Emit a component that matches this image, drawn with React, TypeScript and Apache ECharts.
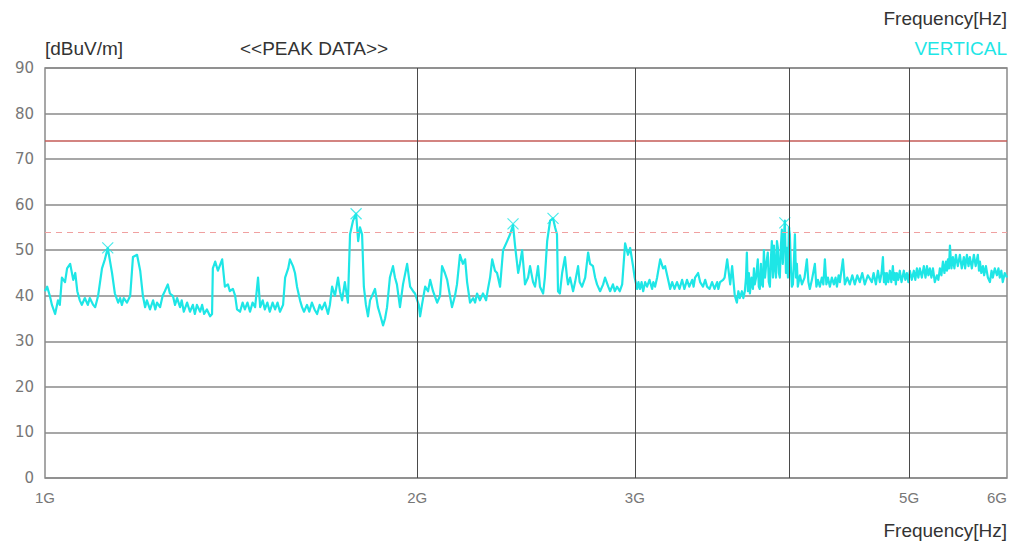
import React, { useEffect, useRef } from "react";
import * as echarts from "echarts";

// Frequency in GHz, level in dBuV/m
const traceSeg1: [number, number][] = [
  [1.0, 41], [1.004, 42], [1.009, 40], [1.013, 38], [1.019, 36], [1.0245, 39], [1.028, 38], [1.032, 44],
  [1.038, 43], [1.042, 46], [1.048, 47], [1.054, 43.5], [1.058, 45], [1.062, 41], [1.067, 39], [1.071, 38],
  [1.077, 39.5], [1.083, 38], [1.087, 39.5], [1.094, 38], [1.098, 37.5], [1.104, 40], [1.112, 46], [1.118, 48],
  [1.124, 50.5], [1.133, 45], [1.139, 40.5], [1.146, 38.5], [1.15, 39.5], [1.154, 38], [1.158, 39.5], [1.165, 38.5],
  [1.172, 40], [1.178, 48.5], [1.187, 49], [1.194, 45.5], [1.2, 40], [1.205, 37.5], [1.209, 39], [1.216, 37],
  [1.223, 39], [1.228, 37], [1.232, 38.5], [1.239, 37.5], [1.245, 40], [1.25, 41], [1.257, 42.5], [1.262, 40.5],
  [1.269, 40], [1.274, 38], [1.279, 39.5], [1.286, 37.5], [1.29, 39], [1.295, 36.5], [1.303, 38.5], [1.31, 36.5],
  [1.317, 38], [1.322, 36], [1.327, 38], [1.335, 36.5], [1.34, 38], [1.345, 36], [1.352, 37], [1.36, 35.5],
];
const traceSeg2: [number, number][] = [
  [1.365, 36], [1.367, 46], [1.373, 47.5], [1.38, 45.5], [1.391, 48], [1.398, 42], [1.406, 42.5], [1.411, 41],
  [1.419, 41.5], [1.425, 40], [1.43, 37], [1.438, 36.5], [1.445, 38.5], [1.451, 37], [1.458, 38.5], [1.465, 36.5],
  [1.472, 38.5], [1.479, 37.5], [1.487, 44], [1.493, 37.5], [1.5, 39], [1.506, 37], [1.513, 38.5], [1.52, 36.5],
  [1.528, 38.5], [1.535, 37], [1.542, 38.5], [1.549, 36.5], [1.558, 38], [1.564, 44], [1.573, 46], [1.578, 48],
  [1.587, 46.5], [1.593, 45], [1.599, 42], [1.608, 39], [1.614, 37.5], [1.62, 36.5], [1.629, 38], [1.636, 36.5],
  [1.644, 38.5], [1.652, 37], [1.66, 36], [1.668, 38], [1.675, 37], [1.684, 38.5], [1.694, 36], [1.7, 38],
  [1.707, 42], [1.716, 40], [1.726, 44], [1.732, 41], [1.739, 39], [1.748, 43], [1.758, 38.5], [1.765, 53.5],
  [1.775, 56.5], [1.785, 58], [1.792, 52], [1.798, 55], [1.805, 53.5], [1.811, 42], [1.818, 38], [1.825, 35.5],
  [1.832, 39], [1.839, 40],
];
const traceSeg3: [number, number][] = [
  [1.849, 41.5], [1.859, 37.5], [1.866, 36], [1.877, 33.5], [1.884, 35], [1.891, 37.5], [1.901, 44], [1.912, 46.5],
  [1.919, 44], [1.926, 42.5], [1.937, 37.5], [1.948, 42.5], [1.963, 47], [1.974, 42], [1.985, 41], [1.992, 40.5],
  [2.006, 38], [2.011, 35.5], [2.018, 38], [2.03, 42], [2.041, 41], [2.049, 43.5], [2.06, 41], [2.076, 38.5],
  [2.087, 40], [2.095, 46.5], [2.106, 45], [2.115, 43.5], [2.126, 40], [2.134, 37.5], [2.146, 40], [2.154, 42.5],
  [2.166, 49], [2.178, 47], [2.187, 48], [2.195, 43], [2.207, 38.5], [2.22, 39.5], [2.228, 38.5], [2.236, 40.5],
  [2.248, 39], [2.261, 40.5], [2.274, 39], [2.282, 41.5], [2.291, 44], [2.3, 48], [2.312, 45.5], [2.321, 45],
  [2.334, 42], [2.347, 50], [2.365, 52], [2.378, 53.5], [2.391, 55.5], [2.4, 51], [2.414, 45], [2.422, 47],
  [2.432, 50], [2.445, 42.5], [2.459, 44], [2.468, 46.5], [2.482, 43], [2.491, 42], [2.505, 46.5],
];
const traceSeg4: [number, number][] = [
  [2.514, 42], [2.529, 40.5], [2.537, 44], [2.548, 52], [2.562, 56.5], [2.576, 57], [2.586, 55], [2.595, 53.5],
  [2.6, 41], [2.609, 40.5], [2.62, 45], [2.634, 48.5], [2.644, 44], [2.649, 42.5], [2.659, 44], [2.674, 41],
  [2.684, 43], [2.699, 46.5], [2.707, 43], [2.719, 42], [2.735, 44], [2.75, 49.5], [2.76, 47], [2.775, 46.5],
  [2.786, 44], [2.796, 42.5], [2.812, 41], [2.828, 42.5], [2.838, 44], [2.855, 42], [2.865, 41], [2.88, 42.5],
  [2.89, 41], [2.902, 42], [2.917, 41], [2.93, 42.5], [2.946, 51.5], [2.962, 49], [2.974, 50.5], [2.99, 46.5],
  [2.999, 44], [3.013, 41.5], [3.02, 43], [3.029, 41.5], [3.038, 43], [3.047, 41], [3.058, 43], [3.069, 42],
  [3.083, 43.5], [3.098, 41.5], [3.105, 43], [3.115, 42], [3.127, 44], [3.145, 48], [3.162, 46], [3.174, 46.5],
  [3.192, 43.5], [3.204, 41.5], [3.216, 43], [3.23, 41.5], [3.245, 43], [3.26, 41.5], [3.276, 43.5], [3.29, 41.5],
  [3.306, 43.5], [3.32, 42], [3.338, 43.5], [3.347, 42], [3.356, 44], [3.375, 45], [3.388, 43], [3.406, 42],
];
const traceSeg5: [number, number][] = [
  [3.42, 43.5], [3.432, 42], [3.448, 41.5], [3.464, 43], [3.48, 41.5], [3.497, 43], [3.505, 41.5], [3.516, 43],
  [3.536, 43.5], [3.546, 44], [3.563, 48], [3.583, 42.5], [3.596, 46.5], [3.614, 40], [3.628, 38.5], [3.638, 41],
  [3.648, 39.5], [3.662, 41], [3.672, 39.5], [3.682, 41], [3.69, 44], [3.696, 49.5], [3.703, 41], [3.71, 45],
  [3.717, 40.5], [3.728, 44], [3.738, 41.5], [3.745, 46], [3.751, 42.5], [3.76, 44], [3.772, 48], [3.779, 42],
  [3.786, 41.5], [3.794, 47], [3.801, 42.5], [3.808, 42], [3.815, 50], [3.823, 44], [3.832, 47], [3.843, 49.5],
  [3.85, 43], [3.858, 42], [3.865, 48], [3.872, 52], [3.88, 44], [3.887, 51], [3.894, 46.5], [3.902, 44],
  [3.909, 52], [3.916, 50.5], [3.923, 45], [3.93, 44], [3.938, 51], [3.945, 54.5], [3.952, 47], [3.96, 53],
  [3.967, 56.5], [3.975, 45], [3.982, 50.5], [3.99, 44], [3.997, 55], [4.004, 53.5], [4.012, 46], [4.019, 42],
  [4.027, 42.5], [4.035, 48], [4.042, 53.5], [4.05, 44], [4.057, 47], [4.064, 42], [4.08, 44.5], [4.095, 42.5],
  [4.115, 44], [4.133, 48], [4.145, 43], [4.156, 41.5], [4.172, 43.5], [4.195, 47], [4.207, 42], [4.219, 43.5],
  [4.234, 42], [4.25, 44], [4.262, 42.5], [4.274, 48], [4.286, 42.5], [4.298, 44], [4.314, 42], [4.33, 44],
  [4.346, 42.5], [4.36, 44], [4.371, 42], [4.385, 44.5], [4.395, 43], [4.42, 48], [4.436, 42.5], [4.456, 44],
  [4.477, 42.5], [4.498, 44.5], [4.519, 42.5], [4.54, 44.5], [4.561, 43], [4.582, 45], [4.604, 42.5], [4.63, 44.5],
];
const traceSeg6: [number, number][] = [
  [4.665, 43], [4.68, 45], [4.7, 42.5], [4.718, 45.5], [4.735, 43], [4.75, 45], [4.762, 48.5], [4.771, 43],
  [4.779, 45], [4.788, 42.5], [4.797, 45], [4.81, 43], [4.824, 45.5], [4.837, 43], [4.851, 46.5], [4.86, 43.5],
  [4.869, 45], [4.878, 42.5], [4.887, 45], [4.9, 43.5], [4.914, 45.5], [4.93, 43], [4.951, 45.5], [4.965, 43.5],
  [4.979, 45], [4.993, 43], [5.007, 45.5], [5.025, 43.5], [5.044, 45.5], [5.058, 43.5], [5.073, 46], [5.087, 44],
  [5.101, 46], [5.12, 44], [5.139, 46.5], [5.155, 44], [5.169, 46.5], [5.183, 44.5], [5.197, 46], [5.212, 44],
  [5.227, 46], [5.245, 43], [5.266, 44.5], [5.28, 43.5], [5.295, 46], [5.31, 44.5], [5.325, 47.5], [5.34, 45],
  [5.355, 47.5], [5.365, 45.5], [5.375, 48], [5.385, 46], [5.395, 51], [5.41, 46], [5.425, 48.5], [5.44, 46],
  [5.455, 49], [5.475, 46.5], [5.496, 49], [5.515, 46], [5.537, 48.5], [5.55, 46], [5.568, 49], [5.585, 46.5],
  [5.599, 48.5], [5.62, 46], [5.641, 49], [5.66, 46.5], [5.683, 49], [5.695, 45.5], [5.705, 47.5], [5.72, 45],
  [5.737, 46.5], [5.75, 44.5], [5.769, 46.5], [5.79, 44], [5.812, 43], [5.83, 45.5], [5.844, 44], [5.865, 46],
  [5.888, 44.5], [5.905, 46], [5.92, 44], [5.937, 45.5], [5.953, 43], [5.975, 45], [6.0, 44],
];

const peakMarks: [number, number][] = [
  [1.124, 50.5], [1.785, 58], [2.391, 55.8], [2.576, 57], [3.967, 56],
];

const limitSolid = 74;
const limitDashed = 54;
const xLabelGHz = [1, 2, 3, 5, 6];
const xGridGHz = [2, 3, 4, 5];

const CYAN = "#1ee6e6";

export default function App() {
  const ref = useRef<HTMLDivElement>(null);

  useEffect(() => {
    const chart = echarts.init(ref.current!, null, { renderer: "svg" });
    const trace = [...traceSeg1, ...traceSeg2, ...traceSeg3, ...traceSeg4, ...traceSeg5, ...traceSeg6];
    const textStyle = (
      x: number,
      y: number,
      text: string,
      align: string,
      fill: string
    ) => ({
      type: "text",
      x,
      y,
      silent: true,
      style: {
        text,
        fill,
        fontSize: 19,
        fontFamily: "Liberation Sans, Arial, sans-serif",
        align,
        verticalAlign: "middle",
        textAlign: align,
        textVerticalAlign: "middle",
      },
    });

    chart.setOption({
      animation: false,
      backgroundColor: "#ffffff",
      grid: {
        left: 45,
        right: 7,
        top: 68,
        bottom: 66,
        show: true,
        borderColor: "#8a8a8a",
        borderWidth: 1.5,
        outerBoundsMode: "none",
      },
      xAxis: {
        type: "log",
        logBase: 10,
        min: 1,
        max: 6,
        axisLine: { show: false },
        axisTick: { show: false },
        splitLine: { show: false },
        minorSplitLine: { show: false },
        axisLabel: {
          customValues: xLabelGHz,
          formatter: (v: number) => Math.round(v) + "G",
          color: "#777777",
          fontSize: 15,
          fontFamily: "Liberation Sans Narrow, Liberation Sans, sans-serif",
          margin: 12,
          alignMaxLabel: "right",
        },
      },
      yAxis: {
        type: "value",
        min: 0,
        max: 90,
        interval: 10,
        axisLine: { show: false },
        axisTick: { show: false },
        splitLine: { show: true, lineStyle: { color: "#8a8a8a", width: 1.5 } },
        axisLabel: {
          color: "#777777",
          fontSize: 15,
          fontFamily: "DejaVu Sans, sans-serif",
          margin: 11,
        },
      },
      graphic: [
        textStyle(45, 48, "[dBuV/m]", "left", "#333333"),
        textStyle(240, 48, "<<PEAK DATA>>", "left", "#333333"),
        textStyle(1007, 18, "Frequency[Hz]", "right", "#333333"),
        textStyle(1007, 48, "VERTICAL", "right", CYAN),
        textStyle(1007, 530, "Frequency[Hz]", "right", "#333333"),
      ],
      series: [
        {
          type: "line",
          data: trace,
          showSymbol: false,
          symbol: "none",
          lineStyle: { color: CYAN, width: 2.2, join: "round" },
          silent: true,
          z: 3,
          markLine: {
            silent: true,
            symbol: "none",
            label: { show: false },
            lineStyle: { color: "#c55b57", width: 1.5, type: "solid" },
            data: [
              { yAxis: limitSolid, lineStyle: { color: "#c55b57", width: 1.6, type: "solid", opacity: 1 } },
              { yAxis: limitDashed, lineStyle: { color: "#f0a0a0", width: 1.2, type: [6, 5], opacity: 1 } },
              ...xGridGHz.map((g) => ({
                xAxis: g,
                lineStyle: { color: "#4a4a4a", width: 1, type: "solid", opacity: 1 },
              })),
            ],
          },
        },
        {
          type: "scatter",
          data: peakMarks,
          symbol: "path://M0,0L10,10M10,0L0,10",
          symbolSize: 11,
          silent: true,
          itemStyle: { color: "none", borderColor: CYAN, borderWidth: 1.2 },
          z: 4,
        },
      ],
    });
    return () => chart.dispose();
  }, []);

  return (
    <div
      ref={ref}
      style={{ position: "absolute", left: 0, top: 0, width: 1014, height: 544, background: "#fff" }}
    />
  );
}
